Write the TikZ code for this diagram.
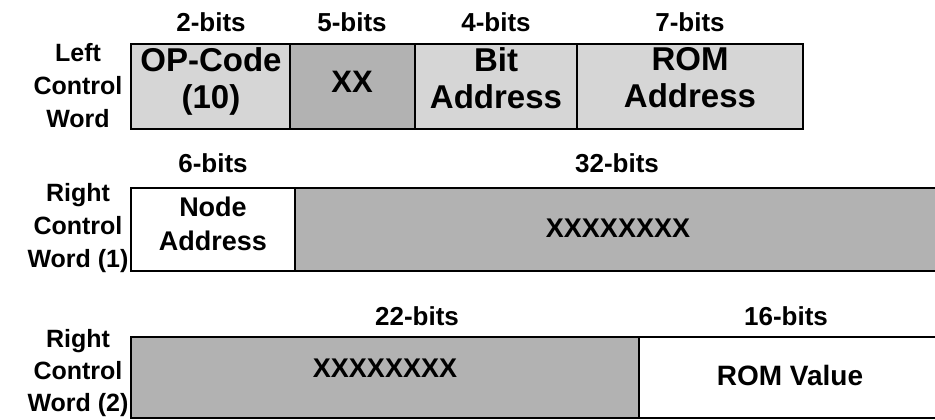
\documentclass[tikz,border=0pt]{standalone}
\usepackage{fontspec}
\setmainfont{Liberation Sans}
\definecolor{lightfill}{gray}{0.84}
\definecolor{darkfill}{gray}{0.70}
\begin{document}
\begin{tikzpicture}[x=1pt,y=-1pt,
  border/.style={line width=2.8pt,line cap=rect},
  bigtext/.style={font=\bfseries\fontsize{33}{37}\selectfont,align=center,inner sep=0pt},
  fieldtext/.style={font=\bfseries\fontsize{27}{34}\selectfont,align=center,inner sep=0pt},
  xtext/.style={font=\bfseries\fontsize{27}{27}\selectfont,inner sep=0pt},
  bitlabel/.style={font=\bfseries\fontsize{26}{26}\selectfont,inner sep=0pt,anchor=base},
  rowlabel/.style={font=\bfseries\fontsize{25}{33}\selectfont,align=center,inner sep=0pt}]
\useasboundingbox (0,0) rectangle (935,420);
\clip (0,0) rectangle (935,420);
% ---------- Row 1 : Left Control Word ----------
\fill[lightfill] (131,44) rectangle (290,129);
\fill[darkfill]  (290,44) rectangle (415,129);
\fill[lightfill] (415,44) rectangle (577,129);
\fill[lightfill] (577,44) rectangle (803,129);
\draw[border] (131,44) rectangle (803,129);
\draw[border] (290,44) -- (290,129);
\draw[border] (415,44) -- (415,129);
\draw[border] (577,44) -- (577,129);
\node[rowlabel] (l1) at (78,86) {Left\\Control\\Word};
\node[bitlabel] (b1) at (211,32) {2-bits};
\node[bitlabel] (b2) at (352,32) {5-bits};
\node[bitlabel] (b3) at (496,32) {4-bits};
\node[bitlabel] (b4) at (690,32) {7-bits};
\node[bigtext] (f1) at (211,81) {OP-Code\\(10)};
\node[bigtext,font=\bfseries\fontsize{31}{31}\selectfont] (f2) at (352,82) {XX};
\node[bigtext] (f3) at (496,78) {Bit\\Address};
\node[bigtext] (f4) at (690,78) {ROM\\Address};
% ---------- Row 2 : Right Control Word (1) ----------
\fill[darkfill] (295,188) rectangle (950,271);
\draw[border] (950,188) -- (131,188) -- (131,271) -- (950,271);
\draw[border] (295,188) -- (295,271);
\node[rowlabel] (l2) at (78,228) {Right\\Control\\Word (1)};
\node[bitlabel] (b5) at (213,172) {6-bits};
\node[bitlabel] (b6) at (617,172) {32-bits};
\node[fieldtext] (f5) at (213,224) {Node\\Address};
\node[xtext] (f6) at (618,228) {XXXXXXXX};
% ---------- Row 3 : Right Control Word (2) ----------
\fill[darkfill] (131,337) rectangle (639,418);
\draw[border] (950,337) -- (131,337) -- (131,418) -- (950,418);
\draw[border] (639,337) -- (639,418);
\node[rowlabel,font=\bfseries\fontsize{25}{32}\selectfont] (l3) at (78,373) {Right\\Control\\Word (2)};
\node[bitlabel] (b7) at (417,325) {22-bits};
\node[bitlabel] (b8) at (786,325) {16-bits};
\node[xtext] (f7) at (385,368) {XXXXXXXX};
\node[fieldtext,font=\bfseries\fontsize{28}{28}\selectfont] (f8) at (790,375) {ROM Value};
\end{tikzpicture}
\end{document}
